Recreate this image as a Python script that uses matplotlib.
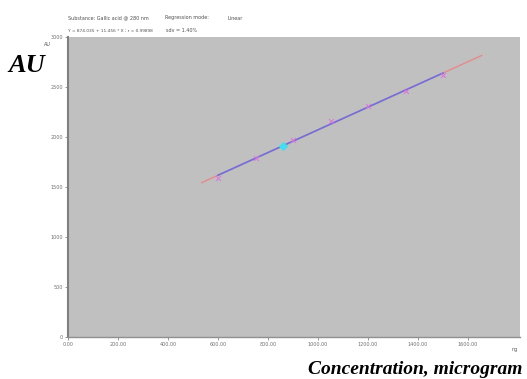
import numpy as np
import matplotlib.pyplot as plt

# calibration points (ng, AU)
amount_ng = [600, 750, 900, 1050, 1200, 1350, 1500]
area_au = [1590, 1790, 1970, 2160, 2310, 2460, 2620]
sample_ng = [861]
sample_au = [1910]
x_ticks = [0, 200, 400, 600, 800, 1000, 1200, 1400, 1600]
y_ticks = [0, 500, 1000, 1500, 2000, 2500, 3000]

fig = plt.figure(figsize=(5.27, 3.79), dpi=100)
ax = fig.add_axes([68 / 527, 42 / 379, 452 / 527, 300 / 379])
ax.set_facecolor('#c0c0c0')

slope, icpt = np.polyfit(amount_ng, area_au, 1)
xr = np.array([535, 1655])
ax.plot(xr, icpt + slope * xr, color='#e88a8a', lw=1.0, zorder=2)
xb = np.array([min(amount_ng), max(amount_ng)])
ax.plot(xb, icpt + slope * xb, color='#7070dc', lw=1.2, zorder=3)
ax.scatter(amount_ng, area_au, marker='x', s=12, color='#e070e0', lw=0.7, zorder=4)
ax.scatter(sample_ng, sample_au, marker='D', s=14, color='#40e0f0', zorder=5)

ax.set_xlim(0, 1808)
ax.set_ylim(0, 3000)
ax.set_xticks(x_ticks)
ax.set_xticklabels([f"{v:.2f}" for v in x_ticks])
ax.set_yticks(y_ticks)
ax.tick_params(labelsize=3.5, colors='#707070', length=2, width=0.5, pad=1.5)
for s in ['top', 'right']:
    ax.spines[s].set_visible(False)
ax.spines['left'].set_color('#808080')
ax.spines['left'].set_linewidth(1.5)
ax.spines['bottom'].set_color('#909090')
ax.spines['bottom'].set_linewidth(1.0)

hdr = dict(fontsize=3.5, color='#505050', va='center')
fig.text(68 / 527, 1 - 18 / 379, "Substance: Gallic acid @ 280 nm", **hdr)
fig.text(165 / 527, 1 - 18 / 379, "Regression mode:", **hdr)
fig.text(227 / 527, 1 - 18 / 379, "Linear", **hdr)
fig.text(68 / 527, 1 - 31 / 379, "Y = 874.035 + 11.456 * X ; r = 0.99898",
         fontsize=3.1, color='#505050', va='center')
fig.text(166 / 527, 1 - 31 / 379, "sdv = 1.40%", **hdr)
fig.text(44 / 527, 1 - 44 / 379, "AU", **hdr)
fig.text(512 / 527, 1 - 350 / 379, "ng", **hdr)

big = dict(family='Liberation Serif', weight='bold', style='italic', color='black')
fig.text(8 / 527, 1 - 66 / 379, "AU", fontsize=19, va='center', ha='left', **big)
fig.text(522 / 527, 1 - 369 / 379, "Concentration, microgram", fontsize=14,
         va='center', ha='right', **big)

fig.savefig('out.png', dpi=100)
